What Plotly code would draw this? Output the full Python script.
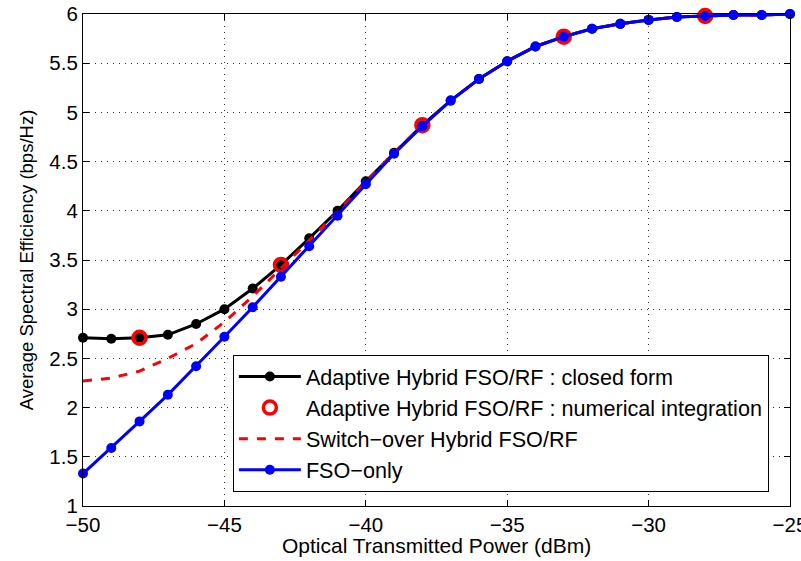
import plotly.graph_objects as go

power = [-50, -49, -48, -47, -46, -45, -44, -43, -42, -41, -40, -39, -38,
         -37, -36, -35, -34, -33, -32, -31, -30, -29, -28, -27, -26, -25]

adaptive_closed = [2.71, 2.70, 2.71, 2.74, 2.85, 3.00, 3.21, 3.45, 3.72, 4.00,
                   4.30, 4.59, 4.87, 5.12, 5.34, 5.52, 5.67, 5.77, 5.85, 5.90,
                   5.94, 5.97, 5.98, 5.99, 5.99, 6.00]

numerical_power = [-48, -43, -38, -33, -28]
numerical_vals = [2.71, 3.45, 4.87, 5.77, 5.98]

switch_over = [2.27, 2.30, 2.37, 2.50, 2.65, 2.87, 3.13, 3.41, 3.70, 3.99,
               4.29, 4.59, 4.87, 5.12, 5.34, 5.52, 5.67, 5.77, 5.85, 5.90,
               5.94, 5.97, 5.98, 5.99, 5.99, 6.00]

fso_only = [1.33, 1.59, 1.86, 2.13, 2.42, 2.72, 3.02, 3.33, 3.64, 3.95,
            4.27, 4.58, 4.86, 5.12, 5.34, 5.52, 5.67, 5.77, 5.85, 5.90,
            5.94, 5.97, 5.98, 5.99, 5.99, 6.00]

x_ticks = [-50, -45, -40, -35, -30, -25]
y_ticks = [1, 1.5, 2, 2.5, 3, 3.5, 4, 4.5, 5, 5.5, 6]

x_title = "Optical Transmitted Power (dBm)"
y_title = "Average Spectral Efficiency (bps/Hz)"

FONT = "Liberation Sans, Arial, Helvetica, sans-serif"

fig = go.Figure()

fig.add_trace(go.Scatter(
    x=power, y=adaptive_closed, mode="lines+markers",
    name="Adaptive Hybrid FSO/RF : closed form",
    line=dict(color="black", width=3),
    marker=dict(color="black", size=10),
    cliponaxis=False,
))
fig.add_trace(go.Scatter(
    x=numerical_power, y=numerical_vals, mode="markers",
    name="Adaptive Hybrid FSO/RF : numerical integration",
    marker=dict(symbol="circle-open", color="red", size=13, line=dict(width=3.5, color="red")),
    cliponaxis=False,
))
fig.add_trace(go.Scatter(
    x=power, y=switch_over, mode="lines",
    name="Switch\u2212over Hybrid FSO/RF",
    line=dict(color="red", width=3, dash="dash"),
    cliponaxis=False,
))
fig.add_trace(go.Scatter(
    x=power, y=fso_only, mode="lines+markers",
    name="FSO\u2212only",
    line=dict(color="blue", width=3),
    marker=dict(color="blue", size=10),
    cliponaxis=False,
))

axis_common = dict(
    showline=True, linecolor="black", linewidth=1.2, mirror="ticks",
    ticks="inside", ticklen=6, tickcolor="black",
    showgrid=True, gridcolor="#333333", griddash="1px,5px", gridwidth=1,
    zeroline=False, automargin=False,
    ticklabeloverflow="allow",
    tickfont=dict(family=FONT, size=20.5, color="black"),
)

fig.update_xaxes(range=[-50, -25], tickvals=x_ticks, **axis_common)
fig.update_yaxes(
    range=[1, 6], tickvals=y_ticks,
    title_text=y_title, title_standoff=10,
    title_font=dict(family=FONT, size=18.5, color="black"),
    **axis_common,
)

fig.add_annotation(
    text=x_title, xref="paper", yref="paper", x=0.5, y=-0.081,
    xanchor="center", yanchor="middle", showarrow=False,
    font=dict(family=FONT, size=21, color="black"),
)

fig.update_layout(
    width=801, height=561,
    margin=dict(l=83, r=11, t=14, b=55),
    paper_bgcolor="white", plot_bgcolor="white",
    font=dict(family=FONT, color="black"),
    showlegend=True,
    legend=dict(
        x=0.212, y=0.0285, xanchor="left", yanchor="bottom",
        xref="paper", yref="paper",
        bgcolor="white", bordercolor="black", borderwidth=1,
        font=dict(family=FONT, size=21.6, color="black"),
        tracegroupgap=0, itemwidth=62,
    ),
)

fig.write_html(
    "out.html",
    config={"displayModeBar": False},
    post_script="document.body.style.margin='0px';",
)
